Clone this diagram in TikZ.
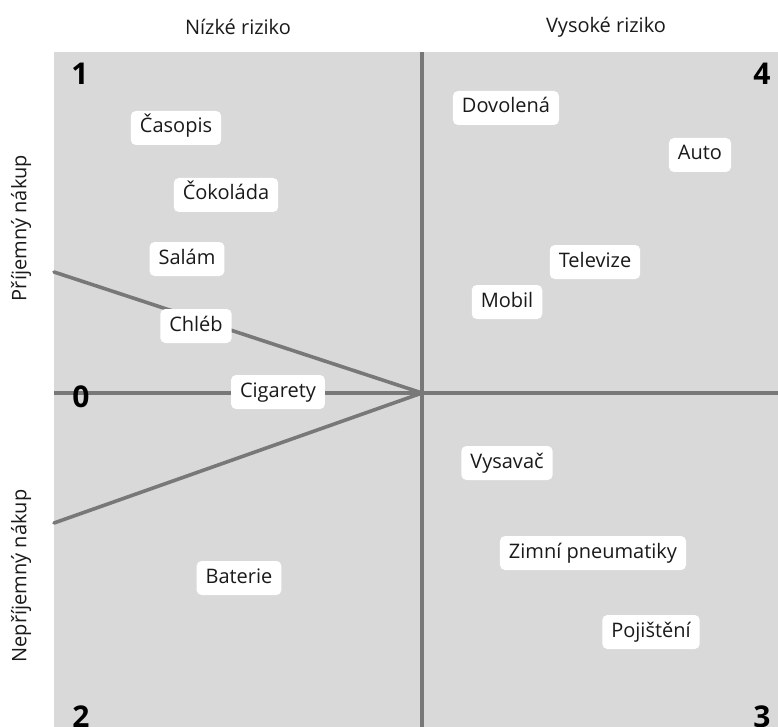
\documentclass[tikz,border=0pt]{standalone}
\usepackage{fontspec}
\setmainfont{Open Sans}
\definecolor{bgray}{HTML}{D9D9D9}
\definecolor{lgray}{HTML}{787878}
\definecolor{txt}{HTML}{1A1A1A}
\begin{document}
\begin{tikzpicture}[x=1pt,y=-1pt,
  item/.style={fill=white,rounded corners=5pt,inner xsep=9pt,inner ysep=7pt,text height=15pt,text depth=5pt,font=\fontsize{20}{24}\selectfont,text=txt},
  hdr/.style={font=\fontsize{20}{24}\selectfont,text=txt},
  digit/.style={font=\fontsize{30}{36}\selectfont\bfseries,anchor=base,inner sep=0pt},
  axis/.style={draw=lgray,line width=3.6pt}]
\useasboundingbox (0,0) rectangle (778,727);
\fill[bgray] (54,52) rectangle (778,727);
% axes
\coordinate (top) at (422,52);
\coordinate (bot) at (422,727);
\coordinate (lft) at (54,393);
\coordinate (rgt) at (778,393);
\coordinate (c) at (422,393);
\coordinate (ul) at (54,272);
\coordinate (ll) at (54,523);
\draw[axis] (top) -- (bot);
\draw[axis] (lft) -- (rgt);
\draw[axis,line cap=round] (ul) -- (c) -- (ll);
% headers
\node[hdr] (h1) at (238,27) {Nízké riziko};
\node[hdr] (h2) at (606,27) {Vysoké riziko};
\node[hdr,rotate=90] (s1) at (21,228) {Příjemný nákup};
\node[hdr,rotate=90] (s2) at (21,576) {Nepříjemný nákup};
% digits
\node[digit] (d1) at (80,85) {1};
\node[digit] (d4) at (762,85) {4};
\node[digit] (d0) at (81,407) {0};
\node[digit] (d2) at (81,727.5) {2};
\node[digit] (d3) at (762,727.5) {3};
% items
\node[item] (casopis) at (176,128) {Časopis};
\node[item] (cokolada) at (226,195) {Čokoláda};
\node[item] (salam) at (187,259) {Salám};
\node[item] (chleb) at (196,326) {Chléb};
\node[item] (cigarety) at (278,392) {Cigarety};
\node[item] (baterie) at (239,578) {Baterie};
\node[item] (dovolena) at (506,108) {Dovolená};
\node[item] (auto) at (700,155) {Auto};
\node[item] (televize) at (595,262) {Televize};
\node[item] (mobil) at (507,302) {Mobil};
\node[item] (vysavac) at (507,463) {Vysavač};
\node[item] (zimni) at (593,553) {Zimní pneumatiky};
\node[item] (pojisteni) at (651,632) {Pojištění};
\end{tikzpicture}
\end{document}
